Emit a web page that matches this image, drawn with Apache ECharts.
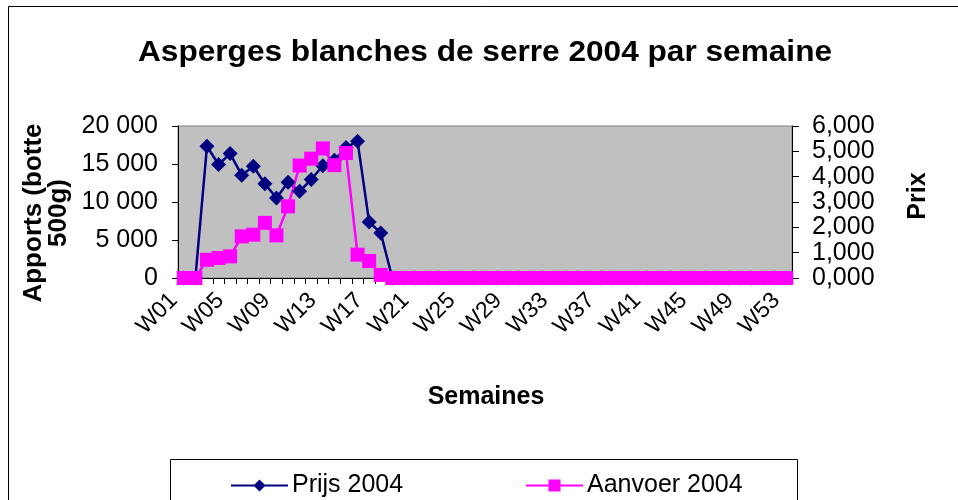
<!DOCTYPE html>
<html>
<head>
<meta charset="utf-8">
<script src="https://cdn.jsdelivr.net/npm/echarts@6/dist/echarts.min.js"></script>
<style>html,body{margin:0;padding:0;background:#fff;}#c{width:958px;height:500px;}</style>
</head>
<body>
<div id="c"></div>
<script>
var weeks = ['W01','W02','W03','W04','W05','W06','W07','W08','W09','W10','W11','W12','W13','W14','W15','W16','W17','W18','W19','W20','W21','W22','W23','W24','W25','W26','W27','W28','W29','W30','W31','W32','W33','W34','W35','W36','W37','W38','W39','W40','W41','W42','W43','W44','W45','W46','W47','W48','W49','W50','W51','W52','W53'];
var prijs2004 = [0,0,5.20,4.48,4.91,4.06,4.41,3.72,3.16,3.78,3.42,3.89,4.43,4.65,5.15,5.40,2.21,1.78,0,0,0,0,0,0,0,0,0,0,0,0,0,0,0,0,0,0,0,0,0,0,0,0,0,0,0,0,0,0,0,0,0,0,0];
var aanvoer2004 = [0,0,2400,2630,2850,5480,5700,7250,5610,9430,14800,15700,17050,14850,16450,3070,2230,400,0,0,0,0,0,0,0,0,0,0,0,0,0,0,0,0,0,0,0,0,0,0,0,0,0,0,0,0,0,0,0,0,0,0,0];
var leftTicks = [0, 5000, 10000, 15000, 20000];
var rightTicks = [0, 1, 2, 3, 4, 5, 6];

var FONT = 'Liberation Sans, Arial, sans-serif';
var chart = echarts.init(document.getElementById('c'));
chart.setOption({
  animation: false,
  backgroundColor: '#ffffff',
  grid: {left: 178, right: 166, top: 126, bottom: 222, show: true, backgroundColor: '#C0C0C0', borderColor: '#808080', borderWidth: 1},
  xAxis: {
    type: 'category', data: weeks, boundaryGap: true,
    axisLine: {lineStyle: {color: '#000', width: 1}},
    axisTick: {show: true, interval: 0, length: 6, lineStyle: {color: '#000'}},
    axisLabel: {interval: 3, rotate: 45, margin: 9, padding: [0, 14, 0, 0], fontFamily: FONT, fontSize: 23, color: '#000'},
    splitLine: {show: false}
  },
  yAxis: [
    {type: 'value', min: leftTicks[0], max: leftTicks[leftTicks.length-1], interval: 5000, position: 'left',
     axisLine: {show: true, lineStyle: {color: '#000'}},
     axisTick: {show: true, length: 6, lineStyle: {color: '#000'}},
     axisLabel: {margin: 20, fontFamily: FONT, fontSize: 25, color: '#000',
       formatter: function (v) { return String(v).replace(/\B(?=(\d{3})+(?!\d))/g, ' '); }},
     splitLine: {show: false}},
    {type: 'value', min: rightTicks[0], max: rightTicks[rightTicks.length-1], interval: 1, position: 'right',
     axisLine: {show: true, lineStyle: {color: '#000'}},
     axisTick: {show: true, length: 7, lineStyle: {color: '#000'}},
     axisLabel: {margin: 20, fontFamily: FONT, fontSize: 25, color: '#000',
       formatter: function (v) { return v.toFixed(3).replace('.', ','); }},
     splitLine: {show: false}}
  ],
  legend: [
    {data: ['Prijs 2004'], left: 230, top: 473, padding: 0, itemWidth: 57, itemHeight: 15, itemGap: 4,
     textStyle: {fontFamily: FONT, fontSize: 25, color: '#000', padding: [0, 0, 0, -1]}},
    {data: ['Aanvoer 2004'], left: 525, top: 473, padding: 0, itemWidth: 57, itemHeight: 15, itemGap: 4,
     textStyle: {fontFamily: FONT, fontSize: 25, color: '#000', padding: [0, 0, 0, -1]}}
  ],
  series: [
    {name: 'Prijs 2004', type: 'line', yAxisIndex: 1, data: prijs2004,
     symbol: 'diamond', symbolSize: 15, showAllSymbol: true,
     lineStyle: {color: '#000080', width: 2.5}, itemStyle: {color: '#000080'}},
    {name: 'Aanvoer 2004', type: 'line', yAxisIndex: 0, data: aanvoer2004,
     symbol: 'rect', symbolSize: 14, showAllSymbol: true,
     lineStyle: {color: '#FF00FF', width: 2.5}, itemStyle: {color: '#FF00FF'}}
  ],
  graphic: [
    {type: 'rect', shape: {x: 8.5, y: 6.5, width: 1000, height: 1000}, style: {fill: 'none', stroke: '#000', lineWidth: 1}, silent: true, z: -10},
    {type: 'rect', shape: {x: 170.5, y: 459.5, width: 627, height: 60}, style: {fill: 'none', stroke: '#000', lineWidth: 1}, silent: true},
    {type: 'text', x: 485, y: 53, scaleX: 1.09, style: {text: 'Asperges blanches de serre 2004 par semaine', font: 'bold 29px Liberation Sans, Arial, sans-serif', fill: '#000', textAlign: 'center', textVerticalAlign: 'middle'}},
    {type: 'text', x: 46, y: 213, rotation: Math.PI / 2, style: {text: 'Apports (botte\n500g)', font: 'bold 26px Liberation Sans, Arial, sans-serif', lineHeight: 25, fill: '#000', textAlign: 'center', textVerticalAlign: 'middle'}},
    {type: 'text', x: 918, y: 196, rotation: Math.PI / 2, style: {text: 'Prix', font: 'bold 25px Liberation Sans, Arial, sans-serif', fill: '#000', textAlign: 'center', textVerticalAlign: 'middle'}},
    {type: 'text', x: 486, y: 397, style: {text: 'Semaines', font: 'bold 25px Liberation Sans, Arial, sans-serif', fill: '#000', textAlign: 'center', textVerticalAlign: 'middle'}}
  ]
});
</script>
</body>
</html>
